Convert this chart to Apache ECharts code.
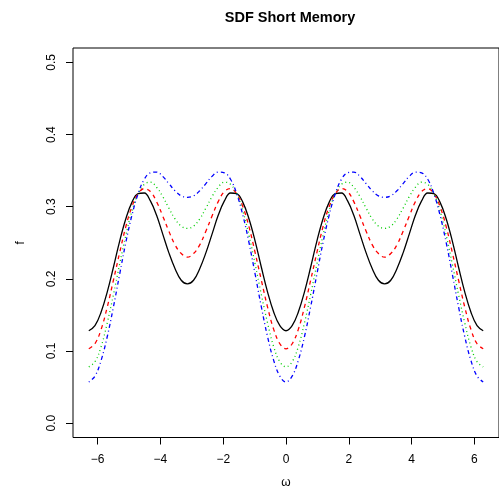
<!DOCTYPE html>
<html>
<head>
<meta charset="utf-8">
<script src="https://cdn.jsdelivr.net/npm/echarts@6/dist/echarts.min.js"></script>
<style>html,body{margin:0;padding:0;background:#fff;}#c{width:499px;height:494px;}</style>
</head>
<body>
<div id="c"></div>
<script>
const omega = [-6.283,-6.087,-5.890,-5.694,-5.498,-5.301,-5.105,-4.909,-4.712,-4.516,-4.320,-4.123,-3.927,-3.731,-3.534,-3.338,-3.142,
  -2.945,-2.749,-2.553,-2.356,-2.160,-1.963,-1.767,-1.571,-1.374,-1.178,-0.982,-0.785,-0.589,-0.393,-0.196,0,
  0.196,0.393,0.589,0.785,0.982,1.178,1.374,1.571,1.767,1.963,2.160,2.356,2.553,2.749,2.945,3.142,
  3.338,3.534,3.731,3.927,4.123,4.320,4.516,4.712,4.909,5.105,5.301,5.498,5.694,5.890,6.087,6.283];
const fBlack = [0.128,0.135,0.154,0.182,0.216,0.252,0.283,0.306,0.318,0.319,0.308,0.288,0.262,0.236,0.214,0.198,0.193,
  0.198,0.214,0.236,0.262,0.288,0.308,0.319,0.318,0.306,0.283,0.252,0.216,0.182,0.154,0.135,0.128,
  0.135,0.154,0.182,0.216,0.252,0.283,0.306,0.318,0.319,0.308,0.288,0.262,0.236,0.214,0.198,0.193,
  0.198,0.214,0.236,0.262,0.288,0.308,0.319,0.318,0.306,0.283,0.252,0.216,0.182,0.154,0.135,0.128];
const fRed = [0.103,0.110,0.130,0.161,0.198,0.236,0.272,0.300,0.318,0.325,0.321,0.307,0.287,0.266,0.247,0.235,0.230,
  0.235,0.247,0.266,0.287,0.307,0.321,0.325,0.318,0.300,0.272,0.236,0.198,0.161,0.130,0.110,0.103,
  0.110,0.130,0.161,0.198,0.236,0.272,0.300,0.318,0.325,0.321,0.307,0.287,0.266,0.247,0.235,0.230,
  0.235,0.247,0.266,0.287,0.307,0.321,0.325,0.318,0.300,0.272,0.236,0.198,0.161,0.130,0.110,0.103];
const fGreen = [0.078,0.085,0.106,0.139,0.178,0.220,0.260,0.294,0.318,0.331,0.334,0.327,0.314,0.298,0.283,0.273,0.270,
  0.273,0.283,0.298,0.314,0.327,0.334,0.331,0.318,0.294,0.260,0.220,0.178,0.139,0.106,0.085,0.078,
  0.085,0.106,0.139,0.178,0.220,0.260,0.294,0.318,0.331,0.334,0.327,0.314,0.298,0.283,0.273,0.270,
  0.273,0.283,0.298,0.314,0.327,0.334,0.331,0.318,0.294,0.260,0.220,0.178,0.139,0.106,0.085,0.078];
const fBlue = [0.057,0.065,0.087,0.120,0.161,0.206,0.250,0.288,0.318,0.338,0.347,0.348,0.342,0.332,0.322,0.315,0.313,
  0.315,0.322,0.332,0.342,0.348,0.347,0.338,0.318,0.288,0.250,0.206,0.161,0.120,0.087,0.065,0.057,
  0.065,0.087,0.120,0.161,0.206,0.250,0.288,0.318,0.338,0.347,0.348,0.342,0.332,0.322,0.315,0.313,
  0.315,0.322,0.332,0.342,0.348,0.347,0.338,0.318,0.288,0.250,0.206,0.161,0.120,0.087,0.065,0.057];
const xTicks = [-6,-4,-2,0,2,4,6];
const yTicks = [0,0.1,0.2,0.3,0.4,0.5];

const FONT = '"Liberation Sans", Arial, Helvetica, sans-serif';
function pairs(ys){ return omega.map((x,i)=>[x, ys[i]]); }
function mk(name, ys, color, type){
  return {name, type:'line', data:pairs(ys), showSymbol:false, symbol:'none', animation:false,
    smooth:0.4, lineStyle:{color, width:1.3, type, cap:'butt'}, z:2};
}
const chart = echarts.init(document.getElementById('c'), null, {renderer:'canvas'});
chart.setOption({
  animation:false,
  backgroundColor:'#fff',
  graphic:[{type:'text', x:290, y:18, style:{text:'SDF Short Memory', font:'bold 14.5px '+FONT, fill:'#000', align:'center', verticalAlign:'middle'}}],
  grid:{left:73, top:48, width:435, height:389.5, show:true, borderColor:'#000', borderWidth:1, backgroundColor:'transparent'},
  xAxis:{type:'value', min:-6.786, max:6.786,
    name:'ω', nameLocation:'middle', nameGap:39, nameTextStyle:{fontFamily:FONT, fontSize:12, color:'#000'},
    axisLine:{show:false, onZero:false}, splitLine:{show:false},
    axisTick:{show:true, length:7, customValues:xTicks, lineStyle:{color:'#000', width:1}},
    axisLabel:{customValues:xTicks, margin:16, fontFamily:FONT, fontSize:12, color:'#000',
      formatter:v=>String(v).replace('-','\u2212')}},
  yAxis:{type:'value', min:-0.02, max:0.52,
    name:'f', nameLocation:'middle', nameGap:46, nameTextStyle:{fontFamily:FONT, fontSize:12, color:'#000'},
    axisLine:{show:false, onZero:false}, splitLine:{show:false},
    axisTick:{show:true, length:7, customValues:yTicks, lineStyle:{color:'#000', width:1}},
    axisLabel:{customValues:yTicks, rotate:90, margin:15, fontFamily:FONT, fontSize:12, color:'#000',
      formatter:v=>Number(v).toFixed(1)}},
  series:[
    mk('black', fBlack, '#000000', 'solid'),
    mk('red', fRed, '#FF0000', [4,4]),
    mk('green', fGreen, '#00CD00', [1,3]),
    mk('blue', fBlue, '#0000FF', [1,3,4,3])
  ]
});
</script>
</body>
</html>
